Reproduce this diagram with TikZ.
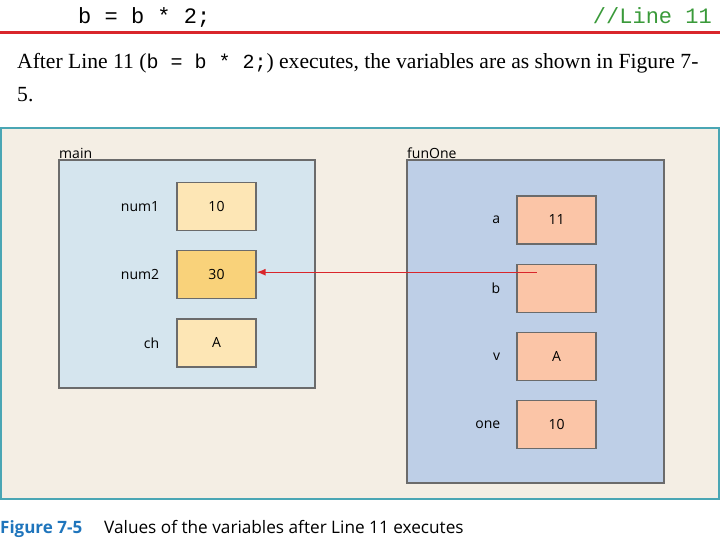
\documentclass[tikz,border=0pt]{standalone}
\usepackage{fontspec}
\setmainfont{Liberation Serif}
\setmonofont{Liberation Mono}
\newfontfamily\figfont{Open Sans}
\usetikzlibrary{arrows.meta}
\usetikzlibrary{calc}
\usetikzlibrary{positioning}

\definecolor{pageback}{HTML}{F4EEE4}
\definecolor{frameteal}{HTML}{4AA6B4}
\definecolor{mainfill}{HTML}{D5E5EE}
\definecolor{funfill}{HTML}{BECFE7}
\definecolor{cellmain}{HTML}{FDE6B5}
\definecolor{cellhot}{HTML}{F9D27A}
\definecolor{cellfun}{HTML}{FBC5A7}
\definecolor{edgegray}{HTML}{6B6B6B}
\definecolor{linered}{HTML}{D9262B}
\definecolor{commentgreen}{HTML}{3A9A3A}
\definecolor{capblue}{HTML}{1F75BC}

\begin{document}
\begin{tikzpicture}[x=1pt, y=-1pt, >=Latex, node distance=19pt and 17pt]
		\tikzset{
			frame/.style={draw=edgegray, line width=1.2pt},
			cell/.style={draw=edgegray, line width=1.2pt, minimum width=79pt, minimum height=48pt, inner sep=0pt, font=\figfont\fontsize{14}{16}\selectfont},
			varname/.style={inner sep=0pt, anchor=east, font=\figfont\fontsize{14}{16}\selectfont},
			title/.style={inner sep=0pt, anchor=south west, font=\figfont\fontsize{14}{16}\selectfont},
			arr/.style={-{Latex[length=9pt, width=7pt]}, draw=linered, line width=1.3pt},
		}
		\useasboundingbox (0,0) rectangle (720,540);
		
		% code line and text above the figure
		\node[anchor=base west, inner sep=0pt, font=\ttfamily\fontsize{22}{24}\selectfont] (code) at (78,24) {b = b * 2;};
		\node[anchor=base east, inner sep=0pt, text=commentgreen, font=\ttfamily\fontsize{22}{24}\selectfont] (comment) at (712,24) {//Line 11};
		\draw[linered, line width=3pt] (0,33) -- (720,33);
		\node[anchor=base west, inner sep=0pt, font=\fontsize{21.6}{24}\selectfont] (line1) at (17,69) {After Line 11 ({\ttfamily\fontsize{20}{22}\selectfont b = b * 2;}) executes, the variables are as shown in Figure 7-};
		\node[anchor=base west, inner sep=0pt, font=\fontsize{21.6}{24}\selectfont] (line2) at (17,102) {5.};
		
		% background of the figure
		\draw[frameteal, fill=pageback, line width=1.5pt] (1,128) rectangle (719,499);
		
		% main
		\draw[frame, fill=mainfill] (59,160) rectangle (315,388);
		\node[title] (maintitle) at (59,159) {main};
		\node[cell, fill=cellmain] (num1) at (216.5,206.5) {10};
		\node[cell, fill=cellhot, below=of num1] (num2) {30};
		\node[cell, fill=cellmain, below=of num2] (ch) {A};
		\node[varname, left=of num1] {num1};
		\node[varname, left=of num2] {num2};
		\node[varname, left=of ch] {ch};
		
		% funOne
		\draw[frame, fill=funfill] (407,160) rectangle (664,483);
		\node[title] (funtitle) at (407,159) {funOne};
		\node[cell, fill=cellfun] (a) at (556.5,220) {11};
		\node[cell, fill=cellfun, below=of a] (b) {};
		\node[cell, fill=cellfun, below=of b] (v) {A};
		\node[cell, fill=cellfun, below=of v] (one) {10};
		\node[varname, left=16pt of a] {a};
		\node[varname, left=16pt of b] {b};
		\node[varname, left=16pt of v] {v};
		\node[varname, left=16pt of one] {one};
		
		\coordinate (bsrc) at ($(b.center)+(-20,-16)$);
		\draw[arr] (bsrc) -- (bsrc -| num2.east);
		
		% caption
		\node[anchor=base west, inner sep=0pt, text=capblue, font=\figfont\bfseries\fontsize{17}{19}\selectfont] (figno) at (0,533) {Figure 7-5};
		\node[anchor=base west, inner sep=0pt, font=\figfont\fontsize{17.2}{19}\selectfont] (captext) at (104,533) {Values of the variables after Line 11 executes};
	\end{tikzpicture}
\end{document}
